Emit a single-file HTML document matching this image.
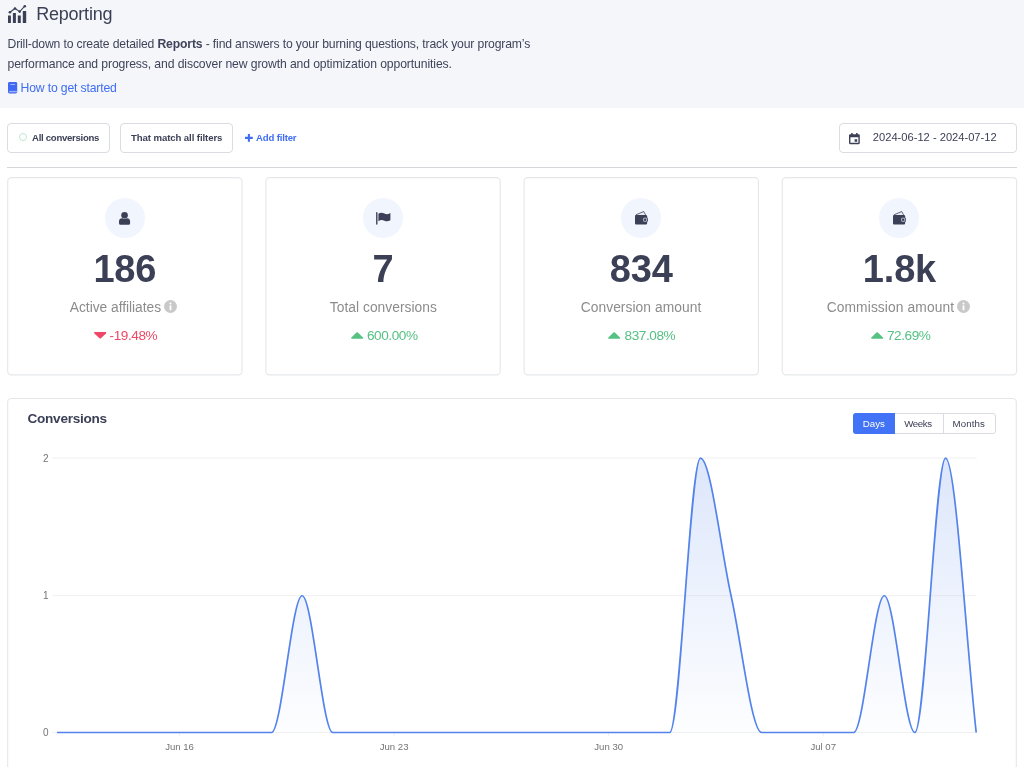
<!DOCTYPE html>
<html lang="en"><head><meta charset="utf-8"><title>Reporting</title>
<style>
html,body{margin:0;padding:0;}
body{width:1024px;height:767px;position:relative;overflow:hidden;background:#fff;font-family:"Liberation Sans",sans-serif;color:#3c4056;}
.abs{position:absolute;white-space:nowrap;}
svg{overflow:visible;}
.hdr{position:absolute;left:0;top:0;width:1024px;height:108px;background:#f4f6fa;}
.title{left:36.2px;top:1.6px;font-size:18px;line-height:24px;letter-spacing:-0.22px;color:#3c4056;}
.desc{left:7.5px;font-size:12.2px;line-height:19.2px;color:#40445a;letter-spacing:-0.15px;}
.link{left:20.5px;top:79.3px;font-size:12.2px;line-height:19.2px;color:#3f6df3;letter-spacing:-0.15px;}
.btn{position:absolute;box-sizing:border-box;border:1px solid #dadce1;border-radius:4px;background:#fff;}
.btxt{font-size:9.6px;font-weight:bold;color:#3c4056;line-height:12px;top:131.6px;}
.card{position:absolute;box-sizing:border-box;border:1px solid #e3e5e9;border-radius:4px;background:#fff;top:177.1px;height:198.3px;width:235.3px;}
.circ{position:absolute;width:40px;height:40px;border-radius:50%;background:#f1f5fd;top:197.9px;}
.num{width:200px;text-align:center;top:244.6px;font-size:38px;line-height:48px;font-weight:bold;color:#3c4056;letter-spacing:-0.2px;}
.lab{top:298.5px;font-size:13.8px;line-height:18px;color:#8c8c8c;}
.seg{top:414.9px;font-size:9.7px;line-height:18px;color:#3c4056}
.pct{top:327.3px;font-size:13.6px;line-height:18px;letter-spacing:-0.42px;}
</style></head><body>
<div class="hdr"></div>
<svg class="abs" style="left:7.7px;top:4.6px" width="18.4" height="18" viewBox="0 0 18.4 18"><g fill="#3c4056"><rect x="0" y="10.5" width="2.9" height="7.5"/><rect x="4.9" y="8" width="3" height="10"/><rect x="9.8" y="10.5" width="3" height="7.5"/><rect x="14.8" y="6" width="3.4" height="12"/></g><path d="M1.9 7.3 L7 3.5 L11.7 6.6 L16.8 1.2" fill="none" stroke="#3c4056" stroke-width="1.1"/><g fill="#3c4056"><circle cx="1.9" cy="7.3" r="1.3"/><circle cx="7" cy="3.5" r="1.3"/><circle cx="11.7" cy="6.6" r="1.3"/><circle cx="16.8" cy="1.2" r="1.3"/></g></svg>
<div class="abs title">Reporting</div>
<div class="abs desc" style="top:34.5px">Drill-down to create detailed <b>Reports</b> - find answers to your burning questions, track your program’s</div>
<div class="abs desc" style="top:54.6px;letter-spacing:-0.11px">performance and progress, and discover new growth and optimization opportunities.</div>
<svg class="abs" style="left:7.9px;top:82.3px" width="9.2" height="11.4" viewBox="0 0 9.2 11.4"><rect x="0" y="0" width="9.2" height="11.4" rx="1.4" fill="#4068f2"/><rect x="1.1" y="8.9" width="8.1" height="1.4" fill="#9db0f8"/><rect x="2.4" y="1.9" width="4.6" height="1.1" rx="0.3" fill="#a9baf9"/></svg>
<div class="abs link">How to get started</div>

<div class="btn" style="left:7px;top:123px;width:102.6px;height:30px"></div>
<div class="abs" style="left:19px;top:133.2px;width:8px;height:8px;box-sizing:border-box;border:1.2px solid #c2e7d2;border-radius:50%"></div>
<div class="abs btxt" style="left:32px;letter-spacing:-0.29px">All conversions</div>
<div class="btn" style="left:119.8px;top:123px;width:112.9px;height:30px"></div>
<div class="abs btxt" style="left:131px;letter-spacing:-0.09px">That match all filters</div>
<svg class="abs" style="left:244.8px;top:134px" width="7.8" height="7.8" viewBox="0 0 7.8 7.8"><path d="M2.85 0H4.95V2.85H7.8V4.95H4.95V7.8H2.85V4.95H0V2.85H2.85Z" fill="#3f6df3"/></svg>
<div class="abs btxt" style="left:256px;color:#3f6df3;letter-spacing:-0.17px">Add filter</div>

<div class="btn" style="left:838.7px;top:123px;width:178.3px;height:30px"></div>
<svg class="abs" style="left:849px;top:133.2px" width="10.8" height="11.2" viewBox="0 0 10.8 11.2"><path d="M2.2 0h1.5v1.3h3.4V0h1.5v1.3h1.1a1.1 1.1 0 0 1 1.1 1.1V10.1a1.1 1.1 0 0 1-1.1 1.1H1.1A1.1 1.1 0 0 1 0 10.1V2.4A1.1 1.1 0 0 1 1.1 1.3h1.1ZM1.4 4.3V9.8H9.4V4.3ZM5.6 6.2H8.2V8.7H5.6Z" fill="#3c4056" fill-rule="evenodd"/></svg>
<div class="abs" style="left:872.8px;top:131px;font-size:11.15px;line-height:13px;color:#3c4056">2024-06-12 - 2024-07-12</div>

<div class="abs" style="left:7px;top:167px;width:1010px;height:1px;background:#d4d6da"></div>

<svg class="abs" style="left:0;top:0" width="1024" height="400" viewBox="0 0 1024 400"><rect x="7.70" y="177.6" width="234.3" height="197.3" rx="3.6" fill="#fff" stroke="#e6e7ea" stroke-width="1.15"/></svg>
<div class="circ" style="left:104.85px"></div>
<svg class="abs" style="left:119.05px;top:211.6px" width="11.2" height="12.8" viewBox="0 0 11.2 12.8"><circle cx="5.55" cy="3.3" r="3.3" fill="#3c4056"/><path d="M0 11.2V9.4C0 7.4 1.4 6.2 3 6.2H3.4Q5.55 7.3 7.7 6.2H8.1C9.7 6.2 11.1 7.4 11.1 9.4V11.2Q11.1 12.7 9.6 12.7H1.5Q0 12.7 0 11.2Z" fill="#3c4056"/></svg>
<div class="abs num" style="left:24.85px">186</div>
<div class="abs lab" style="left:69.8px;letter-spacing:-0.03px">Active affiliates</div>
<svg class="abs" style="left:164.3px;top:300.2px" width="13" height="13" viewBox="0 0 13 13"><circle cx="6.5" cy="6.5" r="6.5" fill="#c9c9c9"/><circle cx="6.5" cy="3.6" r="1" fill="#fff"/><rect x="5.6" y="5.4" width="1.8" height="4.8" fill="#fff"/></svg>
<svg class="abs" style="left:93.6px;top:332.2px" width="12.4" height="6.8" viewBox="0 0 12.4 6.8"><path d="M5.5 6.3Q6.2 6.9 6.9 6.3L12 1.4Q12.8 0 11.4 0H1Q-0.4 0 0.4 1.4Z" fill="#ee4866"/></svg>
<div class="abs pct" style="left:109.6px;color:#ee4866">-19.48%</div>
<svg class="abs" style="left:0;top:0" width="1024" height="400" viewBox="0 0 1024 400"><rect x="265.90" y="177.6" width="234.3" height="197.3" rx="3.6" fill="#fff" stroke="#e6e7ea" stroke-width="1.15"/></svg>
<div class="circ" style="left:363.05px"></div>
<svg class="abs" style="left:376.25px;top:211.8px" width="14.6" height="13" viewBox="0 0 14.6 13"><rect x="0.1" y="0" width="1.4" height="12.8" rx="0.7" fill="#3c4056"/><path d="M2.4 1.7C4.4 0.3 6.4 0.6 8.4 1.6S12.1 2.3 14.4 0.9V8.2C12.1 9.6 10.4 9.6 8.4 8.7S4.4 7.7 2.4 9.3Z" fill="#3c4056"/></svg>
<div class="abs num" style="left:283.05px">7</div>
<div class="abs lab" style="left:329.8px;letter-spacing:0.03px">Total conversions</div>
<svg class="abs" style="left:350.7px;top:332.4px" width="12.4" height="6.8" viewBox="0 0 12.4 6.8"><path d="M5.5 0.5Q6.2 -0.1 6.9 0.5L12 5.4Q12.8 6.8 11.4 6.8H1Q-0.4 6.8 0.4 5.4Z" fill="#55c183"/></svg>
<div class="abs pct" style="left:366.9px;color:#55c183">600.00%</div>
<svg class="abs" style="left:0;top:0" width="1024" height="400" viewBox="0 0 1024 400"><rect x="524.10" y="177.6" width="234.3" height="197.3" rx="3.6" fill="#fff" stroke="#e6e7ea" stroke-width="1.15"/></svg>
<div class="circ" style="left:621.25px"></div>
<svg class="abs" style="left:634.95px;top:211.3px" width="13" height="14" viewBox="0 0 13 14"><path d="M0.8 3.9L8.7 0.5L10.6 3.9" fill="#e6eaf4" stroke="#3c4056" stroke-width="0.8" stroke-linejoin="round"/><path d="M0 5.2Q0 4.1 1.1 4.1H11Q12.1 4.1 12.1 5.2V12.5Q12.1 13.6 11 13.6H1.1Q0 13.6 0 12.5Z" fill="#3c4056"/><circle cx="10.1" cy="8.7" r="2.9" fill="#3c4056"/><circle cx="10.1" cy="8.7" r="2.2" fill="#b4b8c8"/><circle cx="10.1" cy="8.7" r="1.2" fill="#3c4056"/></svg>
<div class="abs num" style="left:541.25px">834</div>
<div class="abs lab" style="left:580.7px;letter-spacing:0.06px">Conversion amount</div>
<svg class="abs" style="left:608.3px;top:332.4px" width="12.4" height="6.8" viewBox="0 0 12.4 6.8"><path d="M5.5 0.5Q6.2 -0.1 6.9 0.5L12 5.4Q12.8 6.8 11.4 6.8H1Q-0.4 6.8 0.4 5.4Z" fill="#55c183"/></svg>
<div class="abs pct" style="left:624.5px;color:#55c183">837.08%</div>
<svg class="abs" style="left:0;top:0" width="1024" height="400" viewBox="0 0 1024 400"><rect x="782.30" y="177.6" width="234.3" height="197.3" rx="3.6" fill="#fff" stroke="#e6e7ea" stroke-width="1.15"/></svg>
<div class="circ" style="left:879.45px"></div>
<svg class="abs" style="left:893.15px;top:211.3px" width="13" height="14" viewBox="0 0 13 14"><path d="M0.8 3.9L8.7 0.5L10.6 3.9" fill="#e6eaf4" stroke="#3c4056" stroke-width="0.8" stroke-linejoin="round"/><path d="M0 5.2Q0 4.1 1.1 4.1H11Q12.1 4.1 12.1 5.2V12.5Q12.1 13.6 11 13.6H1.1Q0 13.6 0 12.5Z" fill="#3c4056"/><circle cx="10.1" cy="8.7" r="2.9" fill="#3c4056"/><circle cx="10.1" cy="8.7" r="2.2" fill="#b4b8c8"/><circle cx="10.1" cy="8.7" r="1.2" fill="#3c4056"/></svg>
<div class="abs num" style="left:799.45px">1.8k</div>
<div class="abs lab" style="left:826.7px;letter-spacing:0.1px">Commission amount</div>
<svg class="abs" style="left:957px;top:300.2px" width="13" height="13" viewBox="0 0 13 13"><circle cx="6.5" cy="6.5" r="6.5" fill="#c9c9c9"/><circle cx="6.5" cy="3.6" r="1" fill="#fff"/><rect x="5.6" y="5.4" width="1.8" height="4.8" fill="#fff"/></svg>
<svg class="abs" style="left:870.8px;top:332.4px" width="12.4" height="6.8" viewBox="0 0 12.4 6.8"><path d="M5.5 0.5Q6.2 -0.1 6.9 0.5L12 5.4Q12.8 6.8 11.4 6.8H1Q-0.4 6.8 0.4 5.4Z" fill="#55c183"/></svg>
<div class="abs pct" style="left:886.9px;color:#55c183">72.69%</div>


<svg class="abs" style="left:0;top:0" width="1024" height="767" viewBox="0 0 1024 767"><rect x="7.7" y="398.5" width="1008.6" height="400" rx="3.6" fill="#fff" stroke="#e6e7ea" stroke-width="1.15"/></svg>
<div class="abs" style="left:27.5px;top:409px;font-size:13.6px;line-height:20px;font-weight:bold;color:#3c4056;letter-spacing:-0.27px">Conversions</div>

<div class="abs" style="left:853.2px;top:413.2px;width:142.9px;height:20.8px;box-sizing:border-box;border:1px solid #d9dbe0;border-radius:3px;background:#fff"></div>
<div class="abs" style="left:853.2px;top:413.2px;width:41.9px;height:20.8px;background:#4272f5;border-radius:3px 0 0 3px"></div>
<div class="abs" style="left:942.5px;top:413.2px;width:1px;height:20.8px;background:#d9dbe0"></div>
<div class="abs seg" style="left:862.8px;color:#fff">Days</div>
<div class="abs seg" style="left:904.2px;letter-spacing:-0.4px">Weeks</div>
<div class="abs seg" style="left:952.6px;letter-spacing:0.1px">Months</div>

<svg class="abs" style="left:0;top:0" width="1024" height="767" viewBox="0 0 1024 767">
<defs><linearGradient id="g" x1="0" y1="458" x2="0" y2="733" gradientUnits="userSpaceOnUse"><stop offset="0" stop-color="#4a7de8" stop-opacity="0.19"/><stop offset="1" stop-color="#4a7de8" stop-opacity="0.01"/></linearGradient>
<clipPath id="cp"><rect x="56" y="455" width="921" height="279"/></clipPath></defs>
<g stroke="#f0f0f0" stroke-width="1"><line x1="52.2" y1="458.05" x2="976.6" y2="458.05"/><line x1="52.2" y1="595.7" x2="976.6" y2="595.7"/><line x1="52.2" y1="732.4" x2="976.6" y2="732.4"/>
<line x1="179.56" y1="733" x2="179.56" y2="736.5"/><line x1="394.11" y1="733" x2="394.11" y2="736.5"/><line x1="608.67" y1="733" x2="608.67" y2="736.5"/><line x1="823.2" y1="733" x2="823.2" y2="736.5"/></g>
<g clip-path="url(#cp)">
<path d="M57.00,732.50L87.64,732.50L118.28,732.50L148.92,732.50L179.56,732.50L210.20,732.50L240.84,732.50L271.48,732.50C281.69,732.50 291.91,595.75 302.12,595.75C312.33,595.75 322.55,732.50 332.76,732.50L363.40,732.50L394.04,732.50L424.68,732.50L455.32,732.50L485.96,732.50L516.60,732.50L547.24,732.50L577.88,732.50L608.52,732.50L639.16,732.50L669.80,732.50C680.01,732.50 690.23,458.20 700.44,458.20C710.65,458.20 720.87,550.03 731.08,595.75C741.29,641.47 751.51,732.50 761.72,732.50L792.36,732.50L823.00,732.50L853.64,732.50C863.85,732.50 874.07,595.75 884.28,595.75C894.49,595.75 904.71,732.50 914.92,732.50C925.13,732.50 935.35,458.20 945.56,458.20C955.77,458.20 965.99,641.07 976.20,732.50 L976.2,732.5 L57,732.5Z" fill="url(#g)"/>
<path d="M57.00,732.50L87.64,732.50L118.28,732.50L148.92,732.50L179.56,732.50L210.20,732.50L240.84,732.50L271.48,732.50C281.69,732.50 291.91,595.75 302.12,595.75C312.33,595.75 322.55,732.50 332.76,732.50L363.40,732.50L394.04,732.50L424.68,732.50L455.32,732.50L485.96,732.50L516.60,732.50L547.24,732.50L577.88,732.50L608.52,732.50L639.16,732.50L669.80,732.50C680.01,732.50 690.23,458.20 700.44,458.20C710.65,458.20 720.87,550.03 731.08,595.75C741.29,641.47 751.51,732.50 761.72,732.50L792.36,732.50L823.00,732.50L853.64,732.50C863.85,732.50 874.07,595.75 884.28,595.75C894.49,595.75 904.71,732.50 914.92,732.50C925.13,732.50 935.35,458.20 945.56,458.20C955.77,458.20 965.99,641.07 976.20,732.50" fill="none" stroke="#5383eb" stroke-width="1.7" stroke-linejoin="round"/>
</g>
<g font-family="Liberation Sans, sans-serif" font-size="9.6" fill="#747474">
<text x="48.6" y="461.9" text-anchor="end" font-size="10">2</text><text x="48.6" y="599.4" text-anchor="end" font-size="10">1</text><text x="48.6" y="736.1" text-anchor="end" font-size="10">0</text>
<text x="179.56" y="749.7" text-anchor="middle">Jun 16</text><text x="394.11" y="749.7" text-anchor="middle">Jun 23</text><text x="608.67" y="749.7" text-anchor="middle">Jun 30</text><text x="823.2" y="749.7" text-anchor="middle">Jul 07</text>
</g>
</svg>
</body></html>
